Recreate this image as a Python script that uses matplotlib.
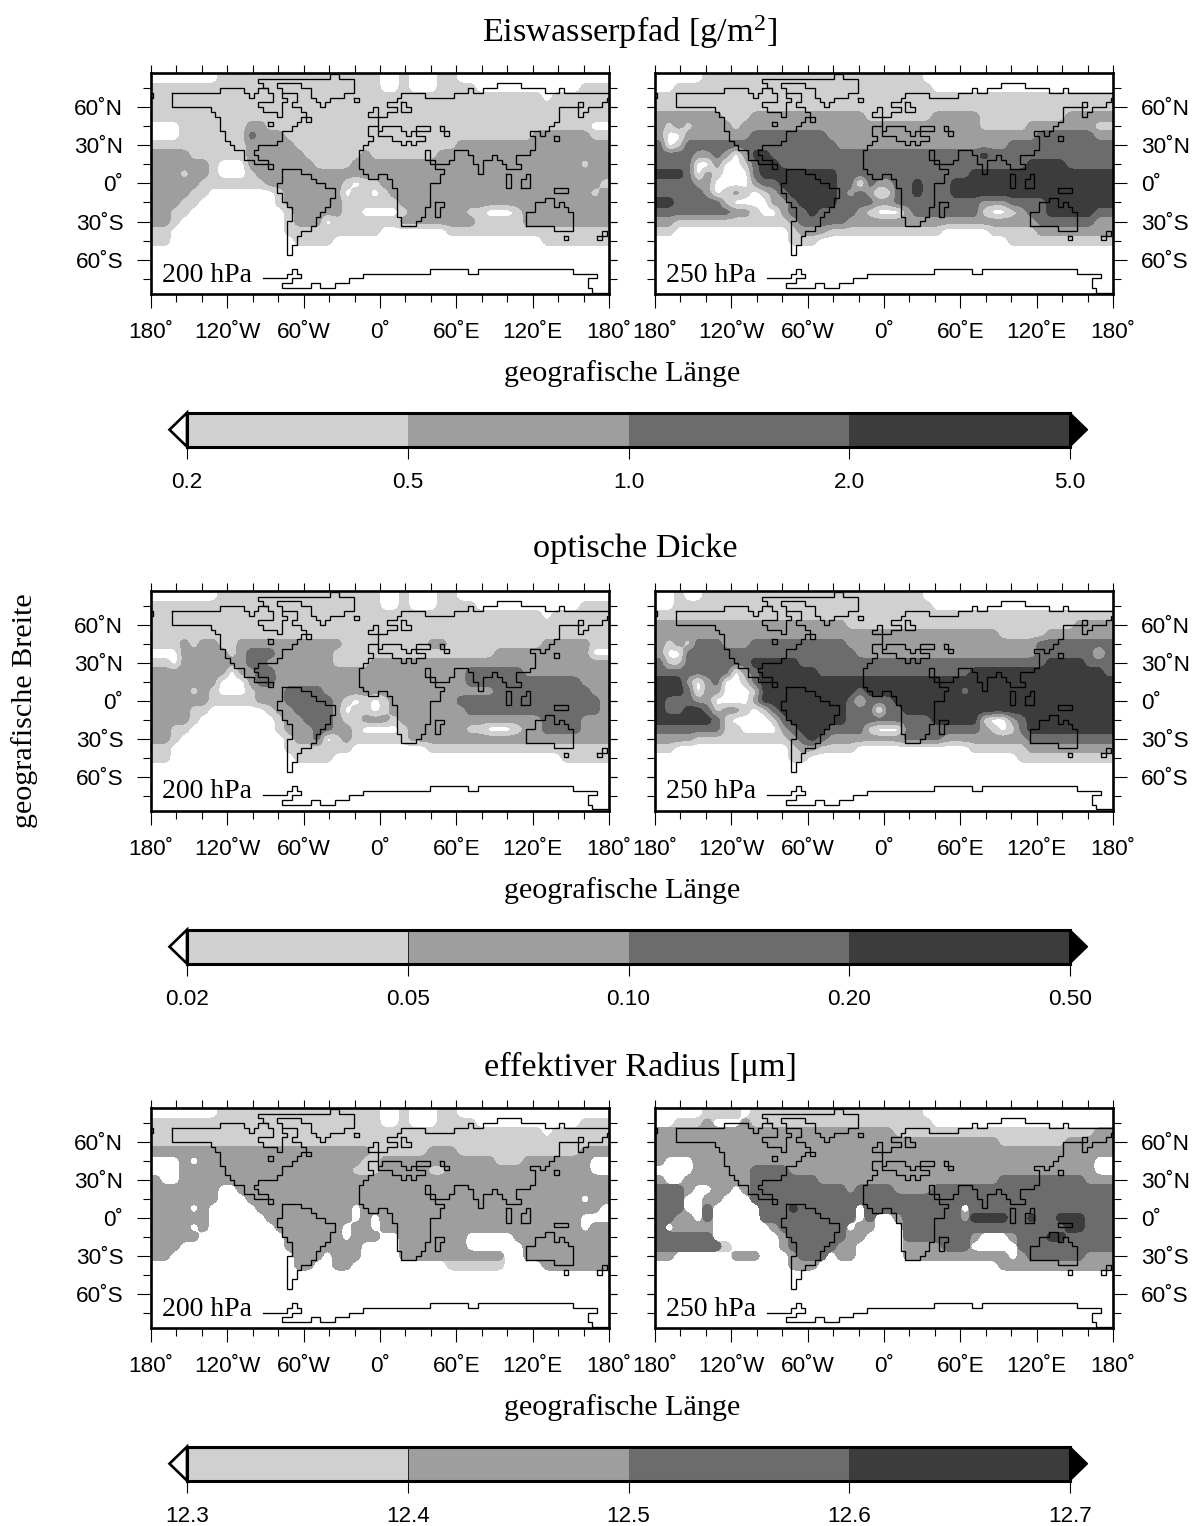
import numpy as np
import matplotlib
matplotlib.use("Agg")
import matplotlib.pyplot as plt
from matplotlib.patches import Polygon

plt.rcParams['font.family'] = ['Liberation Sans', 'DejaVu Sans']
plt.rcParams['mathtext.fontset'] = 'custom'
plt.rcParams['mathtext.rm'] = 'Liberation Serif'
plt.rcParams['mathtext.default'] = 'rm'

SERIF = ['Liberation Serif', 'DejaVu Serif']
W, H = 1194, 1526

# band codes per 7.5 degree cell: 0 = below first level, 1..4 = colour bands
IWP_200 = [
 "00000 00111 11111 11111 11110 01000 11000 00000 00000 000",
 "11111 11111 11111 11111 11110 01000 11110 00000 00000 111",
 "11111 11111 11111 11111 11111 11111 11111 11111 10111 111",
 "11111 11111 11111 11111 11111 11111 11111 11111 11111 111",
 "11111 11111 11111 11111 11111 11111 11111 11111 11111 111",
 "00011 11111 22111 11111 11111 11111 11111 11111 11111 100",
 "00011 11111 32221 11111 11111 11111 11111 11111 22222 211",
 "11111 11111 22222 11111 11111 11111 11222 22222 22222 222",
 "22221 11111 22222 21111 11211 11111 22222 22222 22222 222",
 "22222 21000 22222 22111 12222 22222 22222 22222 22222 122",
 "22212 21000 12222 22222 22222 22222 22222 22222 22222 222",
 "22222 11111 11222 22222 10112 22222 22222 22222 22222 221",
 "22221 10000 00012 22222 01101 22222 22222 22222 22222 212",
 "22211 00000 00012 22222 11111 12222 22222 22222 22222 222",
 "22110 00000 00001 22222 11000 01222 22211 00012 22222 222",
 "22100 00000 00001 22201 11111 12222 22221 11112 22222 222",
 "11000 00000 00001 11111 11110 00000 01111 11111 11111 111",
 "11000 00000 00000 11110 00000 00000 00000 00000 01111 111",
]
IWP_250 = [
 "00000 11111 11111 11111 11111 11100 00000 00000 00000 000",
 "00111 11111 11111 11111 11111 11110 00000 00000 00000 000",
 "11111 11111 11111 11111 11111 11111 11111 11111 11111 111",
 "11111 11111 11111 11111 11111 11111 11111 11111 11111 111",
 "22222 22111 22222 22222 22111 11112 22221 11111 11122 222",
 "21212 22212 22222 22222 22222 22222 22221 11112 22222 211",
 "20022 22222 33333 33322 22222 22222 22222 22222 33333 322",
 "30133 33333 33333 33332 22222 22222 22222 22333 33333 333",
 "33332 23202 44333 33333 33333 33333 33334 33333 33333 333",
 "33330 02001 34433 33333 33333 33333 33333 33334 44433 333",
 "44430 21000 34444 44443 33333 33333 33344 44444 44444 444",
 "33332 20000 23344 44443 30322 33433 34444 44444 44444 444",
 "33333 20121 01234 44443 23201 33433 34444 44444 44444 444",
 "44333 33100 00223 44443 33322 33333 33332 22333 34444 444",
 "33333 33322 10023 34333 32100 02333 33331 00123 34444 433",
 "22111 11111 11112 33333 22222 22222 22222 22222 33333 322",
 "11000 00000 00001 22211 11111 11111 00000 11111 22222 222",
 "00000 00000 00001 11000 00000 00000 00000 00111 11111 111",
]
TAU_200 = [
 "00000 00111 11111 11111 11110 01000 11000 00000 00000 000",
 "11111 11111 11111 11111 11110 01000 11110 00000 00000 111",
 "11111 11111 11111 11111 11111 11111 11111 11111 10111 111",
 "11111 11111 11111 11111 11111 11111 11111 11111 11111 111",
 "11111 11111 11111 11111 11111 11111 11111 11111 11111 111",
 "11121 22112 22222 22222 11111 11112 21111 11111 12222 211",
 "00022 22212 33322 22221 11111 11111 11111 12222 22222 200",
 "11022 22222 33222 22221 11122 22222 22222 22222 22222 222",
 "22222 22202 23322 22222 22222 22222 22233 33332 22222 222",
 "22222 22000 23322 22222 22222 22222 22233 33333 33333 222",
 "22221 21000 12223 33322 22222 22222 22222 23333 33333 322",
 "22222 21111 12223 33332 10101 22222 22333 33333 33333 332",
 "22221 10000 00122 33332 01101 22222 22233 33333 33333 332",
 "22221 00000 00012 23332 11222 12222 22222 22222 23333 222",
 "22110 00000 00012 22332 21000 01222 22211 00012 23333 222",
 "22100 00000 00001 22301 21111 11222 22222 22222 22222 222",
 "11000 00000 00001 11111 10000 00001 11111 11111 11111 111",
 "11000 00000 00000 11110 00000 00000 00000 00000 00011 111",
]
TAU_250 = [
 "00100 11111 11111 11111 11111 11100 00000 00000 00000 000",
 "00111 11111 11111 11111 11111 11110 00000 00000 00000 000",
 "11111 11111 11111 11111 11111 11111 11111 11111 11111 111",
 "22222 22222 22222 22222 11111 11111 11111 11111 11112 222",
 "22222 22222 22222 22222 22222 22222 22222 21111 12222 222",
 "21213 33222 33333 33333 22222 22222 22222 22222 33333 333",
 "20033 33333 33333 33333 32222 22222 22222 22222 33333 313",
 "31133 33333 44444 33333 33333 33333 33333 33333 34444 333",
 "33333 33302 34444 44333 33333 33333 33344 44444 44444 443",
 "44420 23001 34444 44444 44444 44444 44444 44444 44444 444",
 "44430 22000 14444 44444 43444 44444 44344 44444 44444 444",
 "43332 20000 24444 44444 31333 44444 44444 44444 44444 444",
 "43344 31221 01344 44444 33303 34444 44444 44444 44444 444",
 "44444 43100 00134 44444 33333 33334 44441 00234 44444 444",
 "33333 33110 00023 44433 33100 03333 33332 10134 44444 444",
 "22221 11111 11112 34322 22222 23333 22222 22223 33333 333",
 "11000 00000 00001 22111 10000 00000 00011 11112 22222 222",
 "00000 00000 00001 10000 00000 00000 00000 00011 11111 111",
]
REFF_200 = [
 "00000 00111 11111 11111 11110 01000 11000 00000 00000 000",
 "11111 11111 11111 11111 11110 01000 11110 00000 00000 111",
 "11111 11111 11111 11111 11111 11111 11111 11111 10111 111",
 "11111 11111 11111 11111 11111 11111 11111 11111 11111 111",
 "22222 22222 22222 22222 22211 11112 22111 11111 11111 222",
 "00020 22222 22222 22222 22112 22222 22222 21112 22222 200",
 "00022 22222 22222 22222 21112 22221 12222 22222 22222 200",
 "20022 22222 22222 22222 22222 22222 22222 22222 22222 222",
 "22222 22002 22222 22222 22222 22222 22222 22222 22222 222",
 "22222 22000 22222 22222 22222 22222 22222 22222 22222 022",
 "22220 20000 02222 22222 20222 22222 22222 22222 22222 220",
 "22222 20000 00222 22222 20202 22222 22222 22222 22222 000",
 "22220 20000 00022 22222 02202 22222 22222 22222 22222 022",
 "22222 00000 00002 22222 02220 02222 22200 00022 22222 222",
 "22200 00000 00002 22222 22000 02222 22200 00002 22222 222",
 "22000 00000 00000 22202 22000 02222 22222 22002 22222 222",
 "00000 00000 00000 22002 20000 00000 01111 11000 02222 222",
]
REFF_250 = [
 "00000 11110 11111 11111 11111 11100 00000 00000 00000 000",
 "00111 20002 11111 11111 11111 11110 00000 00000 00000 000",
 "22222 22222 22222 22222 22222 11111 11111 11111 11111 122",
 "22222 22222 22222 22222 22222 22222 22222 21111 11122 222",
 "22222 22222 22222 22222 22222 22222 22222 22222 22222 222",
 "20002 22222 22222 22222 22222 22222 22222 22222 22222 200",
 "00002 22222 33332 22222 22222 22222 22222 22222 22222 200",
 "20022 22222 33333 33222 22222 22222 22222 23333 33333 222",
 "33320 02202 33333 33333 23333 22223 33333 33333 33333 333",
 "33300 22000 33333 33333 33333 33333 33333 33333 33333 333",
 "33300 30000 03334 33333 30333 33333 33033 33333 33333 333",
 "33220 30000 03333 33333 30300 23333 33244 44334 33444 333",
 "30222 20000 00233 33333 02200 03333 33333 33333 33344 333",
 "33333 30000 00023 33333 22000 03333 33320 00233 34433 333",
 "33333 33100 00023 33332 20000 02222 33300 00033 33333 333",
 "22000 00022 20002 33302 20000 02222 22222 22023 33333 222",
 "00000 00000 00002 22000 00000 00000 00000 02222 22222 222",
]

# coastline on the model grid: (longitude cell, latitude row)
COAST_AMERICA_N = [(4,4),(14,4),(14,3),(19,3),(19,4),(20,4),(20,5),(21,5),(21,4),(22,4),(22,3),(24,3),(24,4),(25,4),(25,6),(22,6),(22,7),(23,7),(23,8),(26,8),(26,9),(27,9),(27,6),(28,6),(28,5),(27,5),(27,4)]
COAST_GREENLAND = [(24,3),(23,3),(23,2),(22,2),(22,1),(37,1),(37,0),(39,0),(39,1),(42,1),(42,4),(40,4),(40,5),(37,5),(37,6),(36,6),(36,7),(35,7),(35,6),(34,6),(34,5),(33,5),(33,3),(31,3),(31,2),(26,2),(26,3),(27,3),(27,4),(30,4),(30,6),(29,6),(29,7),(31,7),(31,8),(32,8),(32,9),(33,9),(33,10),(32,10),(32,9),(31,9),(31,10),(30,10),(30,11),(29,11),(29,12),(27,12),(27,14),(26,14),(26,15),(22,15),(22,16),(21,16),(21,17),(22,17),(22,18),(24,18),(24,19),(25,19),(25,20),(24,20),(24,19),(21,19),(21,18),(19,18),(19,16),(17,16),(17,15),(16,15),(16,14),(15,14),(15,12),(14,12),(14,9),(13,9),(13,8),(12,8),(12,7),(4,7),(4,4)]
COAST_AMERICA_S = [(27,20),(31,20),(31,21),(33,21),(33,22),(34,22),(34,23),(36,23),(36,24),(38,24),(38,26),(37,26),(37,28),(36,28),(36,29),(35,29),(35,30),(34,30),(34,32),(33,32),(33,33),(31,33),(31,34),(30,34),(30,36),(29,36),(29,38),(28,38),(28,31),(29,31),(29,28),(28,28),(28,27),(27,27),(27,25),(26,25),(26,23),(27,23),(27,20)]
COAST_EURASIA = [(95.5,4),(86,4),(86,3),(85,3),(85,4),(82,4),(82,3),(77,3),(77,2),(72,2),(72,3),(69,3),(69,4),(67,4),(67,3),(66,3),(66,4),(63,4),(63,5),(57,5),(57,4),(52,4),(52,5),(51,5),(51,6),(49,6),(49,7),(51,7),(51,8),(49,8),(49,9),(47,9),(47,7),(46,7),(46,8),(45,8),(45,9),(47,9),(47,11),(46,11),(45,11),(45,13),(46,13),(46,14),(45,14),(45,15),(44,15),(44,16),(43,16),(43,20),(44,20),(44,21),(45,21),(45,22),(47,22),(47,21),(49,21),(49,22),(50,22),(50,24),(51,24),(51,30),(52,30),(52,32),(55,32),(55,31),(56,31),(56,30),(57,30),(57,28),(58,28),(58,23),(60,23),(60,21),(61,21),(61,20),(59,20),(59,19),(58,19),(58,18),(57,18),(57,16),(58,16),(58,18),(59,18),(59,19),(62,19),(62,18),(63,18),(63,16),(66,16),(66,17),(67,17),(67,19),(68,19),(68,21),(69,21),(69,18),(71,18),(71,17),(72,17),(72,18),(73,18),(73,19),(74,19),(74,20),(77,20),(77,19),(76,19),(76,17),(79,17),(79,16),(80,16),(80,13),(79,13),(79,12),(81,12),(81,13),(82,13),(82,12),(83,12),(83,11),(84,11),(84,10),(85,10),(85,7),(89,7),(89,6),(90,6),(90,7),(89,7),(89,9),(90,9),(90,8),(91,8),(91,7),(94,7),(94,6),(95,6),(95,5),(95.5,5)]
COAST_MED = [(47,11),(47,12),(48,12),(48,11),(52,11),(52,12),(53,12),(53,13),(54,13),(54,12),(55,12),(55,11),(58,11),(58,12),(55,12),(55,13),(57,13),(57,14),(55,14),(55,15),(54,15),(54,14),(53,14),(53,15),(52,15),(52,14),(50,14),(50,13),(47,13),(47,12)]
COAST_CASPIAN = [(60,11),(61,11),(61,12),(62,12),(62,13),(61,13),(61,12),(60,12),(60,11)]
COAST_NOVAYA = [(52,6),(53,6),(53,7),(54,7),(54,8),(52,8),(52,6)]
COAST_MADAGASCAR = [(59,27),(61,27),(61,28),(60,28),(60,30),(59,30),(59,27)]
COAST_BORNEO = [(74,21),(75,21),(75,24),(74,24),(74,21)]
COAST_SUMATRA = [(77,24),(77,22),(78,22),(78,21),(79,21),(79,24),(77,24)]
COAST_GUINEA = [(84,24),(87,24),(87,25),(84,25),(84,24)]
COAST_AUSTRALIA = [(78,32),(78,29),(80,29),(80,27),(82,27),(82,26),(84,26),(84,28),(85,28),(85,27),(86,27),(86,28),(87,28),(87,29),(88,29),(88,33),(84,33),(84,32),(78,32)]
COAST_TASMANIA = [(86,34),(87,34),(87,35),(86,35),(86,34)]
COAST_ZEALAND = [(93,34),(94,34),(94,33),(95,33),(95,34),(94,34),(94,35),(93,35),(93,34)]
COAST_JAPAN = [(84,13),(85,13),(85,14),(84,14),(84,13)]
COAST_ICELAND = [(42,5),(43,5),(43,6),(42,6),(42,5)]
COAST_NEWFOUNDLAND = [(24,10),(25,10),(25,11),(24,11),(24,10)]
COAST_EDGE = [(-0.5,4),(0,4),(0,5),(-0.5,5)]
COAST_ANTARCTICA = [(23,43),(28,43),(28,42),(29,42),(29,41),(30,41),(30,42),(31,42),(31,43),(29,43),(29,44),(27,44),(27,45),(33,45),(33,44),(35,44),(35,45),(38,45),(38,44),(41,44),(41,43),(44,43),(44,42),(58,42),(58,41),(66,41),(66,42),(68,42),(68,41),(88,41),(88,42),(93,42),(93,43),(91,43),(91,45),(92,45),(92,46),(95.5,46)]
COASTS = [COAST_AMERICA_N, COAST_GREENLAND, COAST_AMERICA_S, COAST_EURASIA, COAST_MED, COAST_CASPIAN,
          COAST_NOVAYA, COAST_MADAGASCAR, COAST_BORNEO, COAST_SUMATRA, COAST_GUINEA, COAST_AUSTRALIA,
          COAST_TASMANIA, COAST_ZEALAND, COAST_JAPAN, COAST_ICELAND, COAST_NEWFOUNDLAND, COAST_EDGE,
          COAST_ANTARCTICA]

TITLES = ["Eiswasserpfad [g/m$^{2}$]", "optische Dicke", "effektiver Radius [\u03bcm]"]
BAR_LABELS = [["0.2", "0.5", "1.0", "2.0", "5.0"],
              ["0.02", "0.05", "0.10", "0.20", "0.50"],
              ["12.3", "12.4", "12.5", "12.6", "12.7"]]
PANEL_LABELS = ["200 hPa", "250 hPa"]
BAND_COLORS = ["#ffffff", "#d0d0d0", "#9e9e9e", "#6c6c6c", "#3c3c3c"]
LON_MAJOR = [-180, -120, -60, 0, 60, 120, 180]
LON_LABELS = ["180\u02da", "120\u02daW", "60\u02daW", "0\u02da", "60\u02daE", "120\u02daE", "180\u02da"]
LAT_MAJOR = [-60, -30, 0, 30, 60]
LAT_LABELS = ["60\u02daS", "30\u02daS", "0\u02da", "30\u02daN", "60\u02daN"]
LON_MINOR = list(range(-180, 181, 20))
LAT_MINOR = list(range(-75, 76, 15))

ROW_TOPS = [72.7, 590.7, 1107.7]
ROW_BOTTOMS = [294.0, 810.7, 1328.0]
COLS = [(151.0, 609.0), (655.0, 1113.0)]
BAR_TOPS = [412.7, 929.7, 1446.7]
BAR_H = 34.0
BAR_X = (187.0, 1070.0)
TITLE_Y = [32.5, 548.5, 1067.5]
TITLE_X = [630, 635.5, 640]
LONLABEL_Y = [374, 891, 1408]
TICK_FS = 16.2


def to_grid(rows):
    out = np.zeros((23, 48))
    for i, r in enumerate(rows):
        out[i, :] = [float(c) for c in r.replace(" ", "")[:48]]
    return out


lon_c = -176.25 + 7.5 * np.arange(48)
lat_c = 82.5 - 7.5 * np.arange(23)
lon_p = np.r_[-180, lon_c, 180]
lat_p = np.r_[90, lat_c, -90]
lon_f = np.linspace(-180, 180, 193)
lat_f = np.linspace(90, -90, 97)


def refine(z):
    """Bilinear resample of the read-off band grid, then a light 1-2-1 softening."""
    a = np.array([np.interp(lon_f, lon_p, row) for row in z])
    a = np.array([np.interp(-lat_f, -lat_p, a[:, j]) for j in range(a.shape[1])]).T
    p = np.pad(a, 1, mode='edge')
    a = (p[:-2, 1:-1] + 2 * p[1:-1, 1:-1] + p[2:, 1:-1]) / 4
    p = np.pad(a, 1, mode='edge')
    a = (p[1:-1, :-2] + 2 * p[1:-1, 1:-1] + p[1:-1, 2:]) / 4
    return a


def px_axes(fig, x0, x1, ytop, ybot):
    return fig.add_axes([x0 / W, 1 - ybot / H, (x1 - x0) / W, (ybot - ytop) / H])


fig = plt.figure(figsize=(W / 100, H / 100), dpi=100, facecolor='white')
PANELS = [(IWP_200, IWP_250), (TAU_200, TAU_250), (REFF_200, REFF_250)]
SHARP = [False, False, True]

for row, pair in enumerate(PANELS):
    for col, rows in enumerate(pair):
        ax = px_axes(fig, COLS[col][0], COLS[col][1], ROW_TOPS[row], ROW_BOTTOMS[row])
        z = np.pad(to_grid(rows), 1, mode='edge')
        if SHARP[row]:
            for band in range(1, 5):
                m = (z >= band).astype(float)
                if m.max() > 0:
                    ax.contourf(lon_f, lat_f, refine(m), levels=[0.5, 2], colors=[BAND_COLORS[band]])
        else:
            ax.contourf(lon_f, lat_f, refine(z), levels=[0.5, 1.5, 2.5, 3.5, 5],
                        colors=BAND_COLORS[1:])
        for seg in COASTS:
            xs = [-180 + 1.875 + 3.75 * p[0] for p in seg]
            ys = [3.74 * (23 - p[1]) for p in seg]
            ax.plot(xs, ys, color='k', lw=0.95, solid_joinstyle='miter', zorder=5)
        ax.set_xlim(-180, 180)
        ax.set_ylim(-87, 87)
        for s in ax.spines.values():
            s.set_linewidth(1.9)
            s.set_zorder(10)
        ax.set_xticks(LON_MAJOR)
        ax.set_xticklabels(LON_LABELS, fontsize=TICK_FS)
        ax.set_xticks(LON_MINOR, minor=True)
        ax.tick_params(axis='x', which='major', length=10, width=0.8, pad=10.5)
        ax.tick_params(axis='x', which='minor', length=5.5, width=0.8)
        ax.set_yticks(LAT_MAJOR)
        ax.set_yticks(LAT_MINOR, minor=True)
        ax.tick_params(axis='y', which='major', length=10, width=0.8, pad=10,
                       left=col == 0, right=col == 1, labelleft=col == 0, labelright=col == 1,
                       labelsize=TICK_FS)
        ax.tick_params(axis='y', which='minor', length=5.5, width=0.8,
                       left=col == 0, right=col == 1)
        ax.set_yticklabels(LAT_LABELS)
        top = ax.secondary_xaxis('top')
        top.set_xticks(LON_MINOR)
        top.set_xticklabels([])
        top.tick_params(length=5.5, width=0.8)
        top.spines['top'].set_visible(False)
        side = 'right' if col == 0 else 'left'
        other = ax.secondary_yaxis(side)
        other.set_yticks(LAT_MINOR + LAT_MAJOR)
        other.set_yticklabels([])
        other.tick_params(length=5.5, width=0.8)
        other.spines[side].set_visible(False)
        fig.text((COLS[col][0] + 11) / W, 1 - (ROW_BOTTOMS[row] - 19) / H, PANEL_LABELS[col],
                 family=SERIF, fontsize=20, va='center', ha='left', zorder=20)

    fig.text(TITLE_X[row] / W, 1 - TITLE_Y[row] / H, TITLES[row], family=SERIF, fontsize=24.7,
             ha='center', va='center')
    fig.text(622 / W, 1 - LONLABEL_Y[row] / H, "geografische L\u00e4nge", family=SERIF, fontsize=21.7,
             ha='center', va='center')

    cax = px_axes(fig, BAR_X[0], BAR_X[1], BAR_TOPS[row], BAR_TOPS[row] + BAR_H)
    cax.barh([0.5] * 4, [1] * 4, left=np.arange(4), height=1, color=BAND_COLORS[1:], linewidth=0)
    cax.set_xlim(0, 4)
    cax.set_ylim(0, 1)
    tip = 17.5 / (BAR_X[1] - BAR_X[0]) * 4
    cax.add_patch(Polygon([(0, 0), (0, 1), (-tip, 0.5)], closed=True, facecolor='white',
                          edgecolor='k', lw=1.9, clip_on=False, joinstyle='miter'))
    cax.add_patch(Polygon([(4, 0), (4, 1), (4 + tip, 0.5)], closed=True, facecolor='k',
                          edgecolor='k', lw=1.0, clip_on=False))
    if row > 0:
        cax.axvline(1, color='#222222', lw=0.7)
    for s in cax.spines.values():
        s.set_linewidth(2.2)
    cax.set_yticks([])
    cax.set_xticks(np.arange(5))
    cax.set_xticklabels(BAR_LABELS[row], fontsize=TICK_FS)
    cax.tick_params(axis='x', length=8.5, width=0.8, pad=10)

fig.text(25 / W, 1 - 711 / H, "geografische Breite", family=SERIF, fontsize=21.7,
         rotation=90, ha='center', va='center')

fig.savefig("out.png", dpi=100, facecolor='white')
